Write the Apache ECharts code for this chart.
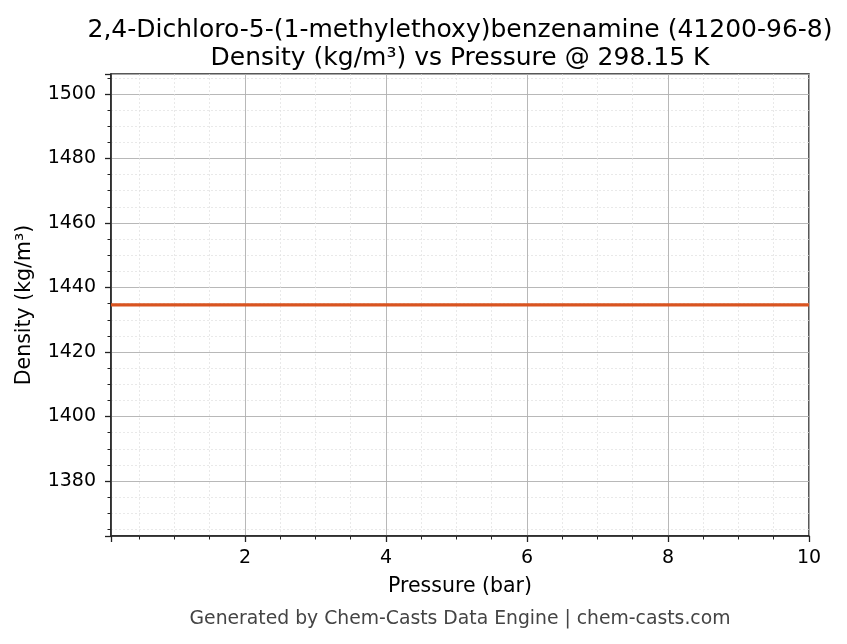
<!DOCTYPE html>
<html>
<head>
<meta charset="utf-8">
<script src="https://cdn.jsdelivr.net/npm/echarts@6/dist/echarts.min.js"></script>
<style>
html,body{margin:0;padding:0;background:#fff;}
#chart{width:847px;height:644px;}
</style>
</head>
<body>
<div id="chart"></div>
<script>
const titleLines = ['2,4-Dichloro-5-(1-methylethoxy)benzenamine (41200-96-8)', 'Density (kg/m³) vs Pressure @ 298.15 K'];
const xAxisName = 'Pressure (bar)';
const yAxisName = 'Density (kg/m³)';
const footerText = 'Generated by Chem-Casts Data Engine | chem-casts.com';
const pressures = [0.1, 1, 2, 3, 4, 5, 6, 7, 8, 9, 10];
const densities = [1434.6, 1434.6, 1434.6, 1434.6, 1434.6, 1434.6, 1434.6, 1434.6, 1434.6, 1434.6, 1434.6];
const xRange = [0.1, 10];
const yRange = [1362.95, 1506.2];

const chart = echarts.init(document.getElementById('chart'), null, {renderer: 'canvas'});
const FONT = 'DejaVu Sans';
const axisCommon = {
  axisLine: {show: true, onZero: false, lineStyle: {color: '#222', width: 1.5}},
  axisTick: {show: true, inside: false, length: 6, lineStyle: {color: '#222', width: 1.3}},
  minorTick: {show: true, splitNumber: 4, length: 3.5, lineStyle: {color: '#222', width: 1}},
  splitLine: {show: true, lineStyle: {color: '#b0b0b0', width: 0.9}},
  minorSplitLine: {show: true, lineStyle: {color: '#e0e0e0', width: 0.7, type: [2, 2]}},
  nameLocation: 'middle',
  nameTextStyle: {fontFamily: FONT, fontSize: 20.5, color: '#000'}
};
chart.setOption({
  animation: false,
  backgroundColor: '#fff',
  title: {
    text: titleLines.join('\n'),
    left: 455, top: 11, textAlign: 'center',
    textStyle: {fontFamily: FONT, fontSize: 25, fontWeight: 'normal', color: '#000', lineHeight: 28}
  },
  grid: {left: 111, right: 38, top: 74, bottom: 108, show: true, borderColor: '#222', borderWidth: 1.5, backgroundColor: 'transparent'},
  xAxis: Object.assign({}, axisCommon, {
    type: 'value', min: xRange[0], max: xRange[1], splitNumber: 5,
    name: xAxisName, nameGap: 40,
    axisLabel: {fontFamily: FONT, fontSize: 19, color: '#000', margin: 13, showMinLabel: false, showMaxLabel: true,
      formatter: v => String(v)}
  }),
  yAxis: Object.assign({}, axisCommon, {
    type: 'value', min: yRange[0], max: yRange[1], splitNumber: 7,
    name: yAxisName, nameGap: 76,
    axisLabel: {fontFamily: FONT, fontSize: 19, color: '#000', margin: 15, showMinLabel: false, showMaxLabel: false,
      formatter: v => String(v)}
  }),
  series: [{
    type: 'line',
    data: pressures.map((p, i) => [p, densities[i]]),
    showSymbol: false,
    lineStyle: {color: '#d95420', width: 3.2},
    itemStyle: {color: '#d95420'},
    z: 5
  }],
  graphic: [{
    type: 'text', x: 460, y: 610,
    style: {text: footerText, fontFamily: FONT, fontSize: 18.8, fill: '#444', align: 'center'}
  }]
});
</script>
</body>
</html>
